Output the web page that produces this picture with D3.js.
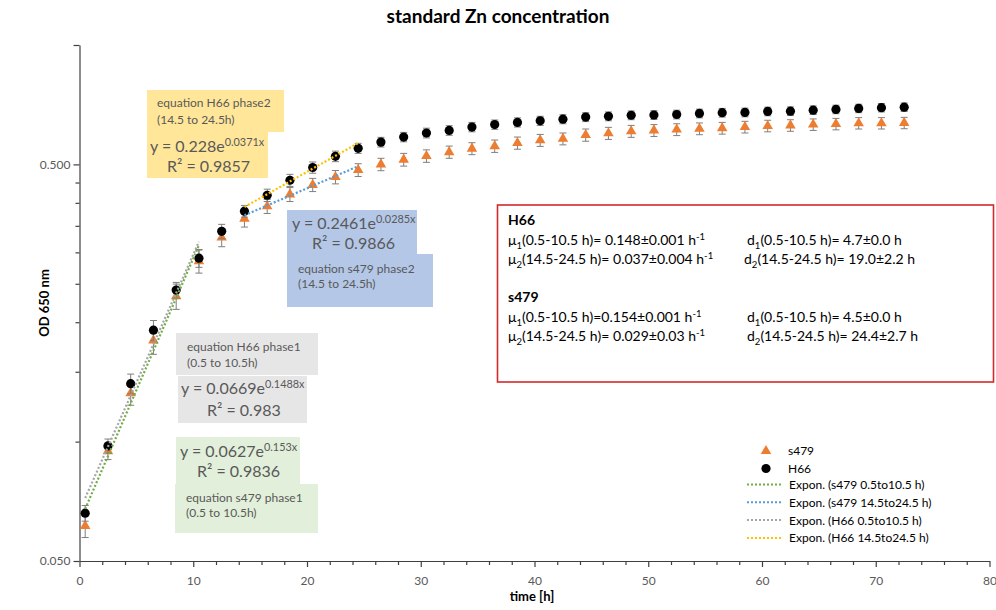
<!DOCTYPE html>
<html>
<head>
<meta charset="utf-8">
<script src="https://cdn.jsdelivr.net/npm/d3@7"></script>
<style>
  body { margin: 0; background: #fff; }
  svg { display: block; }
  text { font-family: Lato, "Open Sans", sans-serif; }
</style>
</head>
<body>
<svg id="chart" width="996" height="610"></svg>
<script>
// sampling times (h)
const times = [0.5, 2.5, 4.5, 6.5, 8.5, 10.5, 12.5, 14.5, 16.5, 18.5, 20.5, 22.5, 24.5,
  26.5, 28.5, 30.5, 32.5, 34.5, 36.5, 38.5, 40.5, 42.5, 44.5, 46.5, 48.5, 50.5, 52.5,
  54.5, 56.5, 58.5, 60.5, 62.5, 64.5, 66.5, 68.5, 70.5, 72.5];

// OD 650 nm, H66 (black circles)
const h66 = [0.066, 0.0975, 0.140, 0.191, 0.241, 0.290, 0.339, 0.381, 0.418, 0.456, 0.491, 0.524, 0.549,
  0.569, 0.586, 0.600, 0.609, 0.621, 0.630, 0.638, 0.644, 0.650, 0.658, 0.661, 0.665, 0.666, 0.668,
  0.672, 0.675, 0.676, 0.680, 0.681, 0.685, 0.688, 0.692, 0.695, 0.697];
const h66Err = [0.003, 0.004, 0.008, 0.011, 0.011, 0.015, 0.014, 0.013, 0.015, 0.016, 0.016, 0.016, 0.016,
  0.016, 0.016, 0.017, 0.017, 0.017, 0.017, 0.017, 0.017, 0.017, 0.017, 0.017, 0.017, 0.017, 0.017,
  0.017, 0.017, 0.017, 0.017, 0.017, 0.017, 0.017, 0.017, 0.017, 0.017];

// OD 650 nm, s479 (orange triangles)
const s479 = [0.0613, 0.0946, 0.1325, 0.180, 0.2325, 0.285, 0.327, 0.3645, 0.392, 0.420, 0.444, 0.4645, 0.484,
  0.500, 0.514, 0.525, 0.537, 0.548, 0.556, 0.566, 0.575, 0.580, 0.593, 0.599, 0.606, 0.609, 0.612,
  0.615, 0.617, 0.621, 0.625, 0.627, 0.630, 0.632, 0.635, 0.635, 0.636];
const s479Err = [0.004, 0.0045, 0.009, 0.014, 0.017, 0.019, 0.017, 0.017, 0.016, 0.017, 0.017, 0.018, 0.018,
  0.018, 0.019, 0.019, 0.019, 0.019, 0.020, 0.020, 0.020, 0.020, 0.021, 0.021, 0.021, 0.021, 0.021,
  0.021, 0.021, 0.021, 0.021, 0.021, 0.021, 0.021, 0.021, 0.021, 0.021];

// exponential trendlines y = a*e^(b*x)
const fitNames = ["Expon. (s479 0.5to10.5 h)", "Expon. (s479 14.5to24.5 h)", "Expon. (H66 0.5to10.5 h)", "Expon. (H66 14.5to24.5 h)"];
const fitA = [0.0627, 0.2461, 0.0669, 0.228];
const fitB = [0.153, 0.0285, 0.1488, 0.0371];
const fitR2 = ["0.9836", "0.9866", "0.983", "0.9857"];
const fitFrom = [0.5, 14.5, 0.5, 14.5];
const fitTo = [10.5, 24.5, 10.5, 24.5];
const fitColors = ["#70AD47", "#5B9BD5", "#A5A5A5", "#FFC000"];

const xTicks = [0, 10, 20, 30, 40, 50, 60, 70, 80];
const xMinor = [2, 4, 6, 8, 12, 14, 16, 18, 22, 24, 26, 28, 32, 34, 36, 38, 42, 44, 46, 48,
  52, 54, 56, 58, 62, 64, 66, 68, 72, 74, 76, 78];
const yTicks = [0.05, 0.5, 1];
const yMinor = [0.1, 0.15, 0.2, 0.25, 0.3, 0.35, 0.4, 0.45];

const svg = d3.select("#chart");
const grey = "#595959";

const x = d3.scaleLinear().domain([0, 80]).range([79.5, 989.5]);
const y = d3.scaleLog().domain([0.05, 1]).range([561, 45]);

// title
svg.append("text")
  .attr("x", 498).attr("y", 23)
  .attr("text-anchor", "middle")
  .attr("font-size", 19).attr("font-weight", "bold")
  .attr("fill", "#000")
  .text("standard Zn concentration");

// axes
const xAxis = svg.append("g")
  .attr("transform", "translate(0,561)")
  .call(d3.axisBottom(x).tickValues(xTicks).tickSize(6).tickSizeOuter(0).tickFormat(d3.format("d")));
svg.append("g")
  .attr("transform", "translate(0,561)")
  .call(d3.axisBottom(x).tickValues(xMinor).tickSize(4).tickSizeOuter(0).tickFormat(""))
  .select(".domain").remove();

const yAxis = svg.append("g")
  .attr("transform", "translate(79.5,0)")
  .call(d3.axisLeft(y).tickValues(yTicks).tickSize(6).tickSizeOuter(0)
    .tickFormat(d => d === 1 ? "" : d3.format(".3f")(d)));
svg.append("g")
  .attr("transform", "translate(79.5,0)")
  .call(d3.axisLeft(y).tickValues(yMinor).tickSize(4).tickSizeOuter(0).tickFormat(""))
  .select(".domain").remove();

svg.selectAll(".domain, .tick line").attr("stroke", "#404040").attr("stroke-width", 1.2);
svg.selectAll(".tick text").attr("fill", grey).attr("font-size", 12)
  .style("font-family", "Lato, 'Open Sans', sans-serif");
xAxis.selectAll(".tick text").attr("dy", "1.25em");

// axis titles
svg.append("text")
  .attr("x", 532).attr("y", 601)
  .attr("text-anchor", "middle")
  .attr("font-size", 13).attr("font-weight", "bold")
  .text("time [h]");
svg.append("text")
  .attr("transform", "translate(49,303) rotate(-90)")
  .attr("text-anchor", "middle")
  .attr("font-size", 13).attr("font-weight", "bold")
  .text("OD 650 nm");

// series: error bars + markers
function drawSeries(values, errs, kind, color) {
  const g = svg.append("g");
  const pts = times.map((t, i) => ({ t, v: values[i], e: errs[i] }));
  const bars = g.selectAll(".err").data(pts).enter().append("g").attr("stroke", "#7F7F7F").attr("stroke-width", 1);
  bars.append("line")
    .attr("x1", d => x(d.t)).attr("x2", d => x(d.t))
    .attr("y1", d => y(d.v - d.e)).attr("y2", d => y(d.v + d.e));
  bars.append("line")
    .attr("x1", d => x(d.t) - 3.5).attr("x2", d => x(d.t) + 3.5)
    .attr("y1", d => y(d.v - d.e)).attr("y2", d => y(d.v - d.e));
  bars.append("line")
    .attr("x1", d => x(d.t) - 3.5).attr("x2", d => x(d.t) + 3.5)
    .attr("y1", d => y(d.v + d.e)).attr("y2", d => y(d.v + d.e));

  if (kind === "triangle") {
    g.selectAll(".mk").data(pts).enter().append("path")
      .attr("d", d3.symbol(d3.symbolTriangle).size(48))
      .attr("transform", d => `translate(${x(d.t)},${y(d.v)})`)
      .attr("fill", color);
  } else {
    g.selectAll(".mk").data(pts).enter().append("circle")
      .attr("cx", d => x(d.t)).attr("cy", d => y(d.v))
      .attr("r", 4.6).attr("fill", color);
  }
}
drawSeries(s479, s479Err, "triangle", "#ED7D31");
drawSeries(h66, h66Err, "circle", "#000");

// trendlines
const line = d3.line().x(d => x(d[0])).y(d => y(d[1]));
fitNames.forEach((n, i) => {
  const ends = [fitFrom[i], fitTo[i]].map(t => [t, fitA[i] * Math.exp(fitB[i] * t)]);
  svg.append("path")
    .datum(ends)
    .attr("d", line)
    .attr("fill", "none")
    .attr("stroke", fitColors[i])
    .attr("stroke-width", 2.2)
    .attr("stroke-dasharray", "2,2");
});

// rich text helper (sub / sup)
function rich(g, px, py, parts, size, attrs = {}) {
  const t = g.append("text").attr("x", px).attr("y", py).attr("font-size", size);
  Object.entries(attrs).forEach(([k, v]) => t.attr(k, v));
  let shift = 0;
  parts.forEach(([s, m]) => {
    const target = m === "sub" ? size * 0.3 : m === "sup" ? -size * 0.38 : 0;
    t.append("tspan").attr("dy", target - shift)
      .attr("font-size", m ? size * 0.68 : size).text(s);
    shift = target;
  });
  return t;
}

// equation labels
const ann = svg.append("g");
function box(x0, y0, w, h, fill) {
  ann.append("rect").attr("x", x0).attr("y", y0).attr("width", w).attr("height", h).attr("fill", fill);
}
function label(px, py, s, size) {
  ann.append("text").attr("x", px).attr("y", py).attr("font-size", size).attr("fill", grey).text(s);
}
function eq(px, py, i) {
  rich(ann, px, py, [[`y = ${fitA[i]}e`], [`${fitB[i]}x`, "sup"]], 16, { fill: grey });
}

// H66 phase2 (yellow)
box(147, 90, 137, 42, "#FFE699");
box(147, 131, 121, 47, "#FFE699");
label(157, 107, "equation H66 phase2", 12);
label(157, 124, "(14.5 to 24.5h)", 12);
eq(150, 152, 3);
label(167, 172, `R² = ${fitR2[3]}`, 16);

// s479 phase2 (blue)
box(287, 210, 130, 45, "#B4C7E7");
box(287, 254, 146, 53, "#B4C7E7");
eq(292, 229, 1);
label(312, 249, `R² = ${fitR2[1]}`, 16);
label(298, 273, "equation s479 phase2", 12);
label(298, 288, "(14.5 to 24.5h)", 12);

// H66 phase1 (grey)
box(176, 333, 142, 42, "#E7E6E6");
box(178, 376, 129, 47, "#E7E6E6");
label(187, 351, "equation H66 phase1", 12);
label(187, 367, "(0.5 to 10.5h)", 12);
eq(181, 394, 2);
label(207, 416, `R² = ${fitR2[2]}`, 16);

// s479 phase1 (green)
box(176, 437, 124, 48, "#E2EFDA");
box(175, 484, 143, 49, "#E2EFDA");
eq(180, 457, 0);
label(197, 477, `R² = ${fitR2[0]}`, 16);
label(186, 502, "equation s479 phase1", 12);
label(186, 517, "(0.5 to 10.5h)", 12);

// growth rate box
const info = svg.append("g");
info.append("rect").attr("x", 497.5).attr("y", 205).attr("width", 496).attr("height", 177)
  .attr("fill", "#fff").attr("stroke", "#D02A2A").attr("stroke-width", 1.6);
const fs = 14;
info.append("text").attr("x", 508).attr("y", 225).attr("font-size", fs).attr("font-weight", "bold").text("H66");
rich(info, 508, 245, [["μ"], ["1", "sub"], ["(0.5-10.5 h)= 0.148±0.001 h"], ["-1", "sup"]], fs);
rich(info, 508, 264, [["μ"], ["2", "sub"], ["(14.5-24.5 h)= 0.037±0.004 h"], ["-1", "sup"]], fs);
rich(info, 747, 245, [["d"], ["1", "sub"], ["(0.5-10.5 h)= 4.7±0.0 h"]], fs);
rich(info, 744, 264, [["d"], ["2", "sub"], ["(14.5-24.5 h)= 19.0±2.2 h"]], fs);
info.append("text").attr("x", 508).attr("y", 302).attr("font-size", fs).attr("font-weight", "bold").text("s479");
rich(info, 508, 322, [["μ"], ["1", "sub"], ["(0.5-10.5 h)=0.154±0.001 h"], ["-1", "sup"]], fs);
rich(info, 508, 341, [["μ"], ["2", "sub"], ["(14.5-24.5 h)= 0.029±0.03 h"], ["-1", "sup"]], fs);
rich(info, 747, 322, [["d"], ["1", "sub"], ["(0.5-10.5 h)= 4.5±0.0 h"]], fs);
rich(info, 747, 341, [["d"], ["2", "sub"], ["(14.5-24.5 h)= 24.4±2.7 h"]], fs);

// legend
const leg = svg.append("g");
leg.append("path").attr("d", d3.symbol(d3.symbolTriangle).size(48)).attr("transform", "translate(766,451)").attr("fill", "#ED7D31");
leg.append("text").attr("x", 788).attr("y", 455).attr("font-size", 12).text("s479");
leg.append("circle").attr("cx", 766).attr("cy", 468.5).attr("r", 4.6).attr("fill", "#000");
leg.append("text").attr("x", 788).attr("y", 473).attr("font-size", 12).text("H66");
fitNames.forEach((n, i) => {
  const ly = 484.5 + i * 17.8;
  leg.append("line").attr("x1", 747).attr("x2", 783).attr("y1", ly).attr("y2", ly)
    .attr("stroke", fitColors[i]).attr("stroke-width", 2).attr("stroke-dasharray", "2,2");
  leg.append("text").attr("x", 789).attr("y", ly + 4.5).attr("font-size", 12).text(n);
});
</script>
</body>
</html>
